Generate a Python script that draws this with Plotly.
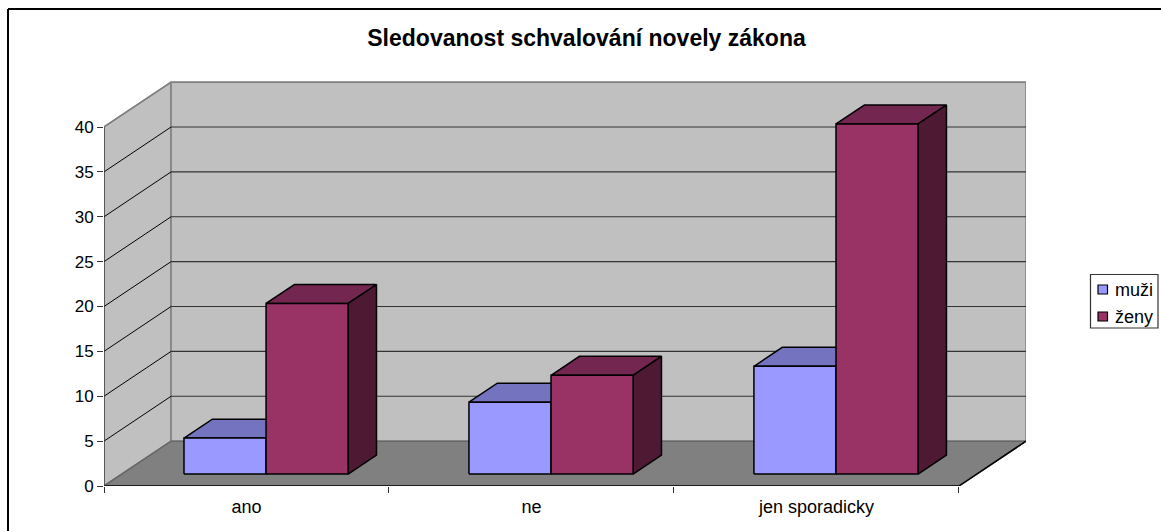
"""
Sledovanost schvalovani novely zakona - 3D look column chart, drawn as an oblique projection.
"""

import plotly.graph_objects as go

# Data
categories = ['ano', 'ne', 'jen sporadicky']
muzi = [4, 8, 12]
zeny = [19, 11, 39]
y_ticks = [0, 5, 10, 15, 20, 25, 30, 35, 40]

FONT = 'Liberation Sans'
W, H = 1161, 531

# Plot area in pixels
LEFT, RIGHT, TOP, BOTTOM = 104, 1026, 81, 486

# Oblique projection: one full depth moves this far in axis units
DEPTH_X = 67 / 284.67
DEPTH_Y = 5.0
MAX_X = len(categories)
MAX_Y = y_ticks[-1]

# Bars, in category units and depth fractions
BAR_OFFSET = 0.2178
BAR_WIDTH = 0.288
BAR_D0 = 0.267
BAR_D1 = 0.69

GREY_EDGE = '#808080'


def proj(x, v, d=0.0):
    return x + d * DEPTH_X, v + d * DEPTH_Y


def px(x):
    return (x - LEFT) / (RIGHT - LEFT)


def py(y):
    return (BOTTOM - y) / (BOTTOM - TOP)


def poly(points, fill, line=GREY_EDGE, width=1.5):
    xs = [proj(*p)[0] for p in points]
    ys = [proj(*p)[1] for p in points]
    xs.append(xs[0])
    ys.append(ys[0])
    return go.Scatter(x=xs, y=ys, mode='lines', fill='toself', fillcolor=fill,
                      line=dict(color=line, width=width), hoverinfo='skip',
                      showlegend=False, cliponaxis=False)


def path(points, color, width=1.0):
    xs = [proj(*p)[0] for p in points]
    ys = [proj(*p)[1] for p in points]
    return go.Scatter(x=xs, y=ys, mode='lines', line=dict(color=color, width=width),
                      hoverinfo='skip', showlegend=False, cliponaxis=False)


fig = go.Figure()

# Walls and floor
fig.add_trace(poly([(0, 0, 0), (0, MAX_Y, 0), (0, MAX_Y, 1), (0, 0, 1)], '#c0c0c0'))
fig.add_trace(poly([(0, 0, 1), (0, MAX_Y, 1), (MAX_X, MAX_Y, 1), (MAX_X, 0, 1)], '#c0c0c0'))
fig.add_trace(poly([(0, 0, 0), (0, 0, 1), (MAX_X, 0, 1), (MAX_X, 0, 0)], '#808080', line='#666666'))

# Gridlines along side wall and back wall
for v in y_ticks[1:-1]:
    fig.add_trace(path([(0, v, 0), (0, v, 1)], '#000000', 1))
    fig.add_trace(path([(0, v, 1), (MAX_X, v, 1)], '#333333', 1.2))
fig.add_trace(path([(0, MAX_Y, 0), (0, MAX_Y, 1), (MAX_X, MAX_Y, 1)], GREY_EDGE, 1.5))

# Front edges of floor, and value axis
fig.add_trace(path([(0, 0, 0), (MAX_X, 0, 0), (MAX_X, 0, 1)], '#000000', 1.5))
fig.add_trace(path([(0, 0, 0), (0, MAX_Y, 0)], '#333333', 1.2))

# Bars, series by series so zeny sit over the side of muzi
series = [
    (muzi, 0, '#9999ff', '#7373bf', '#4d4d80'),
    (zeny, 1, '#993366', '#732650', '#4d1933'),
]
for i in range(len(categories)):
    for values, pos, front, top, side in series:
        x0 = i + BAR_OFFSET + pos * BAR_WIDTH
        x1 = x0 + BAR_WIDTH
        v = values[i]
        fig.add_trace(poly([(x0, v, BAR_D0), (x0, v, BAR_D1), (x1, v, BAR_D1), (x1, v, BAR_D0)],
                           top, line='#000000'))
        fig.add_trace(poly([(x1, 0, BAR_D0), (x1, v, BAR_D0), (x1, v, BAR_D1), (x1, 0, BAR_D1)],
                           side, line='#000000'))
        fig.add_trace(poly([(x0, 0, BAR_D0), (x0, v, BAR_D0), (x1, v, BAR_D0), (x1, 0, BAR_D0)],
                           front, line='#000000'))

# Chart frame (only top and left are inside the picture) and hand-placed legend
shapes = [
    dict(type='line', xref='paper', yref='paper', x0=px(8), x1=px(W), y0=py(9), y1=py(9),
         line=dict(color='#000000', width=2)),
    dict(type='line', xref='paper', yref='paper', x0=px(8), x1=px(8), y0=py(9), y1=py(H),
         line=dict(color='#000000', width=2)),
    dict(type='rect', xref='paper', yref='paper', x0=px(1090.5), x1=px(1158), y0=py(274.5), y1=py(328),
         line=dict(color='#333333', width=1.2), fillcolor='#ffffff'),
]
annotations = []
legend_rows = [('muži', '#9999ff', 289.5), ('ženy', '#993366', 316.5)]
for name, color, yc in legend_rows:
    shapes.append(dict(type='rect', xref='paper', yref='paper', x0=px(1098), x1=px(1107.5),
                       y0=py(yc - 4.5), y1=py(yc + 4.5), fillcolor=color,
                       line=dict(color='#000000', width=1.2)))
    annotations.append(dict(text=name, xref='paper', yref='paper', x=px(1113), y=py(yc),
                            xanchor='left', yanchor='middle', showarrow=False,
                            font=dict(family=FONT, size=18, color='#000000')))

fig.update_layout(
    width=W,
    height=H,
    margin=dict(l=LEFT, r=W - RIGHT, t=TOP, b=H - BOTTOM, autoexpand=False),
    paper_bgcolor='white',
    plot_bgcolor='white',
    showlegend=False,
    shapes=shapes,
    annotations=annotations,
    title=dict(text='<b>Sledovanost schvalování novely zákona</b>',
               font=dict(family=FONT, size=23, color='#000000'),
               xref='container', yref='container', x=586.5 / W, y=1 - 38 / H,
               xanchor='center', yanchor='middle'),
    xaxis=dict(
        range=[0, MAX_X + DEPTH_X],
        showgrid=False,
        zeroline=False,
        showline=False,
        tickmode='array',
        tickvals=[i + 0.5 for i in range(len(categories))],
        ticktext=categories,
        ticks='',
        ticklabelstandoff=8,
        tickfont=dict(family=FONT, size=18, color='#000000'),
        minor=dict(tickmode='array', tickvals=list(range(len(categories) + 1)), ticks='outside',
                   ticklen=6, tickwidth=1, tickcolor='#333333', showgrid=False),
    ),
    yaxis=dict(
        range=[0, (BOTTOM - TOP) / ((BOTTOM - 127) / MAX_Y)],
        showgrid=False,
        zeroline=False,
        showline=False,
        tickmode='array',
        tickvals=y_ticks,
        ticks='outside',
        ticklen=6,
        tickwidth=1,
        tickcolor='#333333',
        tickfont=dict(family=FONT, size=17, color='#000000'),
    ),
)

# Drop the page's default body margin so the figure fills the window
fig.write_html("out.html", config={'displayModeBar': False},
               post_script="document.body.style.margin='0';document.documentElement.style.overflow='hidden';")
